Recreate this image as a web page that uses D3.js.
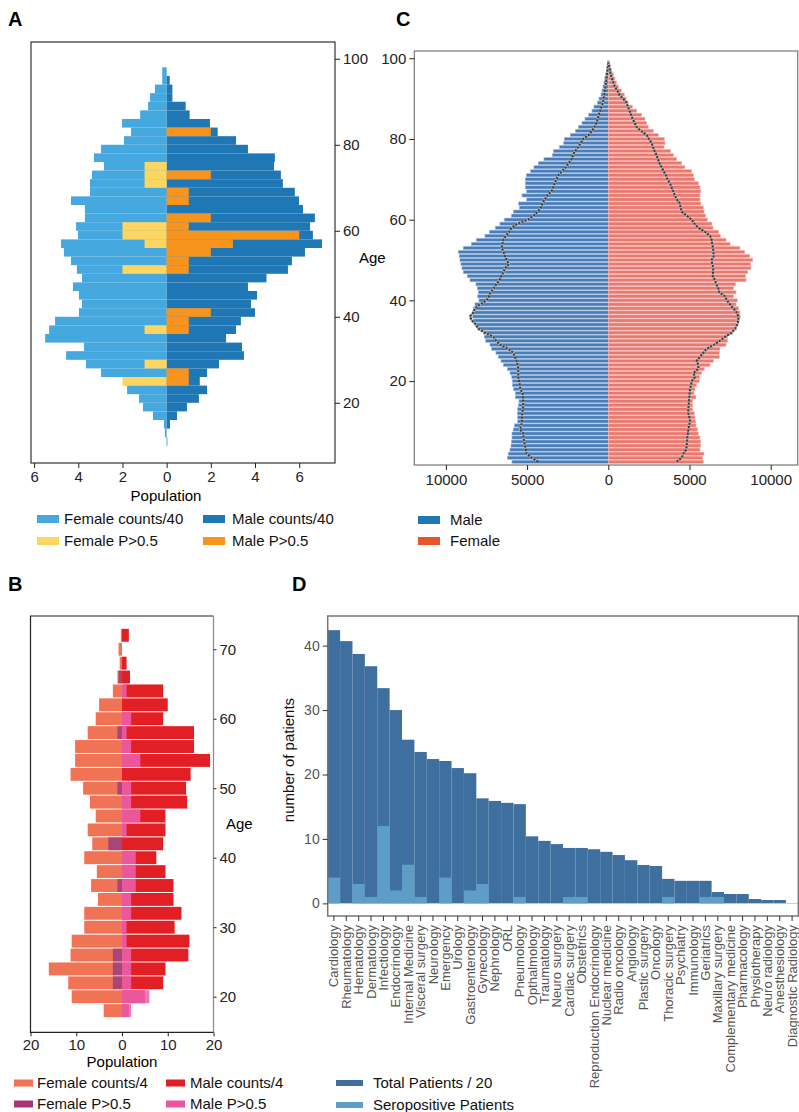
<!DOCTYPE html>
<html><head><meta charset="utf-8">
<script src="https://cdn.jsdelivr.net/npm/d3@7"></script>
<style>
body{margin:0;background:#fff}
text{font-family:Arial,"Liberation Sans",Helvetica,sans-serif}
</style>
</head><body>
<svg id="c" width="799" height="1112"></svg>
<script>
// ---------- Panel A data (2-year bins, lower edge) ----------
const binsA = [10,12,14,16,18,20,22,24,26,28,30,32,34,36,38,40,42,44,46,48,50,52,54,56,58,60,62,64,66,68,70,72,74,76,78,80,82,84,86,88,90,92,94,96];
const femaleCountsA = [0,0.08,0.12,0.62,1.07,1.25,1.79,1.9,2.97,3.65,4.55,3.74,5.5,5.32,5.05,3.97,3.83,3.97,4.24,3.83,4.06,4.33,4.65,4.78,4.01,4.1,3.7,3.7,4.33,3.47,3.47,3.38,2.84,3.29,2.97,1.93,1.61,2.02,1.2,0.84,0.75,0.53,0.2,0.2];
const maleCountsA = [0.03,0,0.15,0.47,0.92,1.46,1.83,1.5,1.83,2.37,3.5,3.41,2.69,3.14,3.36,4.0,3.82,4.09,3.68,4.52,5.49,5.67,6.26,7.03,6.62,6.49,6.71,6.17,5.99,5.8,5.26,5.17,4.86,4.9,3.68,3.14,2.31,1.96,1.04,0.86,0.26,0.26,0.14,0];
const femalePA = [0,0,0,0,0,0,0,2,0,1,0,0,0,1,0,0,0,0,0,0,2,0,0,1,2,2,0,0,0,0,1,1,1,0,0,0,0,0,0,0,0,0,0,0];
const malePA   = [0,0,0,0,0,0,0,1,1,0,0,0,0,1,1,2,0,0,0,0,1,1,2,3,6,1,2,0,1,1,0,2,0,0,0,0,2,0,0,0,0,0,0,0];
const ticksXA = [-6,-4,-2,0,2,4,6];
const ticksYA = [20,40,60,80,100];

// ---------- Panel B data (2-year bins, centre) ----------
const agesB = [18,20,22,24,26,28,30,32,34,36,38,40,42,44,46,48,50,52,54,56,58,60,62,64,66,68,70,72];
const femaleCountsB = [4,11,11.75,16,11.25,11,8.25,8.25,5.25,6.75,5.5,8.25,6.5,7.5,5.75,7,8.5,11.25,10.25,10.25,7.5,5.75,5,2,1,0.5,0.75,0.25];
const maleCountsB = [1.5,5,9,9.5,14.5,14.75,11.5,13,11.25,11.25,9.5,7.5,9,9.5,9.5,14.25,14,15,19.25,15.75,15.75,9,10,9,1.75,1,0,1.5];
const femalePB = [0,0,2,2,2,0,0,0,0,1,0,0,3,0,0,0,1,0,0,0,1,0,0,0,0.75,0,0,0];
const malePB   = [2,6,2,2,2,1,1,2,2,3,3,3,0,1,4,2,2,0,4,2,1,2,0,1,0,0,0,0];
const ticksXB = [-20,-10,0,10,20];
const ticksYB = [20,30,40,50,60,70];

// ---------- Panel C data (single years 0..99) ----------
const agesC = d3.range(0,100);
const maleC = [5933,6221,6159,6056,5995,5974,5933,5933,5851,5790,5584,5584,5605,5584,5543,5502,5728,5728,5851,5913,5913,5954,6056,6221,6467,6611,6775,6919,7186,7288,7555,7637,7699,8007,8212,8315,8356,8356,8315,8212,7966,8048,8007,8068,8150,8520,8686,8932,9014,9076,9138,9179,9240,8932,8439,8131,7598,7331,6961,6674,6407,5975,5852,5483,5524,5031,5318,5031,5113,5113,5113,5051,4784,4579,4312,3963,3450,3388,3018,2752,2710,2341,2033,1848,1622,1437,1211,1006,883,678,575,450,390,330,270,220,170,120,80,40];
const femaleC = [5852,5811,5893,5647,5688,5688,5647,5544,5503,5400,5380,5339,5298,5195,5195,5195,5400,5277,5339,5441,5606,5606,5750,5914,6263,6468,6838,6838,6879,7248,7351,7351,7659,7906,7947,8049,8131,8111,8029,7864,7947,7700,7864,7700,7844,8480,8460,8583,8788,8768,8891,8700,8400,8100,7500,7250,6900,6800,6450,6380,6100,5980,5900,5850,5700,5650,5650,5700,5650,5550,5300,5240,5130,4720,4520,4210,4000,3840,3430,3490,3450,3080,2770,2460,2360,2260,2050,1750,1480,1230,1100,990,800,620,510,410,310,220,140,60];
const maleLineC = [4311,4722,5030,5080,5133,5180,5220,5235,5440,5360,5330,5310,5297,5260,5235,5240,5260,5276,5420,5440,5500,5543,5543,5543,5580,5646,5750,5851,6159,6672,6900,7083,7596,8007,8150,8400,8520,8300,8212,7904,7493,7350,7250,7050,6900,6700,6600,6450,6365,6118,6262,6365,6450,6570,6520,6467,6300,6100,5954,5600,4950,4600,4350,4150,4050,3920,3750,3500,3400,3300,3200,3080,2850,2600,2450,2250,2180,2050,1850,1700,1550,1200,1000,850,720,650,580,500,420,330,290,250,210,170,140,110,80,50,30,10];
const femaleLineC = [4210,4517,4620,4800,4826,4850,4867,4900,4928,4980,5031,4990,4928,4928,4950,4970,4990,5010,5031,5100,5133,5339,5236,5544,5544,5441,5647,5850,6057,6500,6879,7200,7600,7803,7947,8008,8008,7906,7700,7495,7300,7187,6838,6776,6650,6571,6427,6450,6468,6400,6366,6500,6468,6450,6400,6366,6263,5955,5544,5300,5133,4825,4517,4450,4415,4209,4100,4004,3900,3799,3650,3550,3400,3285,3150,3050,2977,2850,2750,2669,2500,2361,2000,1745,1620,1500,1400,1300,1200,1129,900,678,550,400,308,220,150,100,50,20];
const ticksXC = [-10000,-5000,0,5000,10000];
const ticksYC = [20,40,60,80,100];

// ---------- Panel D data ----------
const departments = ["Cardiology","Rheumatology","Hematology","Dermatology","Infectiology","Endocrinology","Internal Medicine","Visceral surgery","Neurology","Emergency","Urology","Gastroenterology","Gynecology","Nephrology","ORL","Pneumology","Opthalmology","Traumatology","Neuro surgery","Cardiac surgery","Obstetrics","Reproduction Endocrinology","Nuclear medicine","Radio oncology","Angiology","Plastic surgery","Oncology","Thoracic surgery","Psychiatry","Immunology","Geriatrics","Maxillary surgery","Complementary medicine","Pharmacology","Physiotherapy","Neuro radiology","Anesthesiology","Diagnostic Radiology"];
const totalPatients20 = [42.4,40.7,38.7,36.8,33.4,30.0,25.4,23.5,22.4,22.1,21.0,20.2,16.3,15.9,15.6,15.4,10.4,9.7,9.2,8.6,8.6,8.4,8.0,7.5,6.7,5.95,5.8,3.8,3.5,3.5,3.5,1.76,1.45,1.45,0.67,0.52,0.52,0.05];
const seropositive = [4,0,3,1,12,2,6,1,0,4,0,2,3,0,0,1,0,0,0,1,1,0,0,0,0,0,0,1,0,0,1,1,0,0,0,0,0,0];
const ticksYD = [0,10,20,30,40];

const svg = d3.select("#c");
const FS = 15;

function styleAxis(g, color, size) {
  g.select(".domain").remove();
  g.selectAll(".tick line").attr("stroke", color).attr("stroke-width", 1);
  g.selectAll(".tick text").attr("fill", color).attr("font-size", size).attr("font-family", "Arial, 'Liberation Sans', sans-serif");
}
function legendRow(g, x, y, w, h, color, label, tx) {
  g.append("rect").attr("x", x).attr("y", y - h/2).attr("width", w).attr("height", h).attr("fill", color);
  g.append("text").attr("x", tx).attr("y", y).attr("dy", "0.35em").attr("font-size", FS).attr("fill", "#111").text(label);
}
function panelLabel(t, x, y) {
  svg.append("text").attr("x", x).attr("y", y).attr("font-size", 20).attr("font-weight", "bold").attr("fill", "#000").text(t);
}

// ================= Panel A =================
{
  const xA = d3.scaleLinear().domain([-6.14, 7.62]).range([31, 335]);
  const yA = d3.scaleLinear().domain([6, 103.9]).range([463, 42]);
  const g = svg.append("g");
  const layer = (vals, side, color) => {
    g.selectAll(null).data(binsA.map((b,i)=>({b, v: vals[i]})).filter(d=>d.v>0)).enter().append("rect")
      .attr("x", d => side < 0 ? xA(-d.v) : xA(0))
      .attr("width", d => side < 0 ? xA(0) - xA(-d.v) : xA(d.v) - xA(0))
      .attr("y", d => yA(d.b + 2))
      .attr("height", d => yA(d.b) - yA(d.b + 2))
      .attr("fill", color);
  };
  layer(femaleCountsA, -1, "#45a8df");
  layer(maleCountsA, 1, "#1f78b5");
  layer(femalePA, -1, "#fdd662");
  layer(malePA, 1, "#f7941d");
  g.append("rect").attr("x", 31).attr("y", 42).attr("width", 304).attr("height", 421).attr("fill", "none").attr("stroke", "#333").attr("stroke-width", 1.2);
  const ax = g.append("g").attr("transform", "translate(0,463)").call(d3.axisBottom(xA).tickValues(ticksXA).tickFormat(d=>Math.abs(d)).tickSize(5).tickPadding(3));
  styleAxis(ax, "#222", FS);
  const ay = g.append("g").attr("transform", "translate(335,0)").call(d3.axisRight(yA).tickValues(ticksYA).tickSize(5).tickPadding(3));
  styleAxis(ay, "#222", FS);
  g.append("text").attr("x", 166).attr("y", 501).attr("text-anchor", "middle").attr("font-size", FS).text("Population");
  g.append("text").attr("x", 359).attr("y", 258).attr("dy", "0.35em").attr("font-size", FS).text("Age");
  legendRow(g, 37, 519, 22, 8, "#45a8df", "Female counts/40", 64);
  legendRow(g, 203, 519, 22, 8, "#1f78b5", "Male counts/40", 232);
  legendRow(g, 37, 541, 22, 8, "#fdd662", "Female P>0.5", 64);
  legendRow(g, 203, 541, 22, 8, "#f7941d", "Male P>0.5", 232);
  panelLabel("A", 8, 26);
}

// ================= Panel C =================
{
  const xC = d3.scaleLinear().domain([-11946, 11663]).range([414.3, 797.7]);
  const yC = d3.scaleLinear().domain([-0.8, 101.8]).range([465, 51]);
  const g = svg.append("g");
  const bh = 3.2;
  g.selectAll(null).data(agesC.map((a,i)=>({a, v: maleC[i]}))).enter().append("rect")
    .attr("x", d => xC(-d.v)).attr("width", d => xC(0) - xC(-d.v))
    .attr("y", d => yC(d.a) - bh/2).attr("height", bh)
    .attr("fill", "#4a7cb8").attr("stroke", "#a6c1e0").attr("stroke-width", 0.6);
  g.selectAll(null).data(agesC.map((a,i)=>({a, v: femaleC[i]}))).enter().append("rect")
    .attr("x", xC(0)).attr("width", d => xC(d.v) - xC(0))
    .attr("y", d => yC(d.a) - bh/2).attr("height", bh)
    .attr("fill", "#e97870").attr("stroke", "#f5b5ae").attr("stroke-width", 0.6);
  const lineM = d3.line().x((d,i)=>xC(-d)).y((d,i)=>yC(agesC[i]));
  const lineF = d3.line().x((d,i)=>xC(d)).y((d,i)=>yC(agesC[i]));
  [lineM(maleLineC), lineF(femaleLineC)].forEach(p => {
    g.append("path").attr("d", p).attr("fill", "none").attr("stroke", "#bbb").attr("stroke-width", 2.2);
    g.append("path").attr("d", p).attr("fill", "none").attr("stroke", "#3c3c3c").attr("stroke-width", 2).attr("stroke-dasharray", "2.2,1.2");
  });
  g.append("rect").attr("x", 414.3).attr("y", 51).attr("width", 383.4).attr("height", 414).attr("fill", "none").attr("stroke", "#777").attr("stroke-width", 1.2);
  const ax = g.append("g").attr("transform", "translate(0,465)").call(d3.axisBottom(xC).tickValues(ticksXC).tickFormat(d=>Math.abs(d)).tickSize(5).tickPadding(4));
  styleAxis(ax, "#222", FS);
  const ay = g.append("g").attr("transform", "translate(414.3,0)").call(d3.axisLeft(yC).tickValues(ticksYC).tickSize(5).tickPadding(3));
  styleAxis(ay, "#222", FS);
  legendRow(g, 418, 520, 22, 8, "#1f77b4", "Male", 450);
  legendRow(g, 418, 541, 22, 8, "#e8552a", "Female", 450);
  panelLabel("C", 396, 26);
}

// ================= Panel B =================
{
  const xB = d3.scaleLinear().domain([-20, 20]).range([30.5, 213.5]);
  const yB = d3.scaleLinear().domain([14.88, 74.78]).range([1032.3, 616]);
  const g = svg.append("g");
  const layer = (vals, side, color, op) => {
    g.selectAll(null).data(agesB.map((a,i)=>({a, v: vals[i]})).filter(d=>d.v>0)).enter().append("rect")
      .attr("x", d => side < 0 ? xB(-d.v) : xB(0))
      .attr("width", d => side < 0 ? xB(0) - xB(-d.v) : xB(d.v) - xB(0))
      .attr("y", d => yB(d.a + 1) + 0.5)
      .attr("height", d => yB(d.a - 1) - yB(d.a + 1) - 1)
      .attr("fill", color).attr("fill-opacity", op);
  };
  layer(femaleCountsB, -1, "#f07355", 1);
  layer(maleCountsB, 1, "#e31f26", 1);
  layer(femalePB, -1, "#9b3e7e", 0.85);
  layer(malePB, 1, "#eb61af", 0.85);
  g.append("path").attr("d", "M213.5,616 H30.5 V1032.3 H213.5").attr("fill", "none").attr("stroke", "#222").attr("stroke-width", 1.2);
  g.append("line").attr("x1", 213.5).attr("x2", 213.5).attr("y1", 616).attr("y2", 1032.3).attr("stroke", "#888").attr("stroke-width", 1.2);
  const ax = g.append("g").attr("transform", "translate(0,1032.3)").call(d3.axisBottom(xB).tickValues(ticksXB).tickFormat(d=>Math.abs(d)).tickSize(4).tickPadding(3));
  styleAxis(ax, "#222", FS);
  const ay = g.append("g").attr("transform", "translate(213.5,0)").call(d3.axisRight(yB).tickValues(ticksYB).tickSize(3).tickPadding(3));
  styleAxis(ay, "#222", FS);
  g.append("text").attr("x", 122).attr("y", 1067).attr("text-anchor", "middle").attr("font-size", FS).text("Population");
  g.append("text").attr("x", 226).attr("y", 824).attr("dy", "0.35em").attr("font-size", FS).text("Age");
  legendRow(g, 14, 1083, 19, 7, "#f07355", "Female counts/4", 37);
  legendRow(g, 166, 1083, 19, 7, "#e31f26", "Male counts/4", 190);
  legendRow(g, 14, 1104, 19, 7, "#a8357a", "Female P>0.5", 37);
  legendRow(g, 166, 1104, 19, 7, "#e9559f", "Male P>0.5", 190);
  panelLabel("B", 8, 591);
}

// ================= Panel D =================
{
  const xD = d3.scaleBand().domain(departments).range([327.7, 798.3]).padding(0);
  const yD = d3.scaleLinear().domain([-1.96, 44.6]).range([916, 616]);
  const g = svg.append("g");
  g.selectAll(null).data(departments.map((c,i)=>({c, v: totalPatients20[i]}))).enter().append("rect")
    .attr("x", d => xD(d.c)).attr("width", xD.bandwidth())
    .attr("y", d => yD(d.v)).attr("height", d => yD(0) - yD(d.v))
    .attr("fill", "#3e6f9e");
  g.selectAll(null).data(departments.map((c,i)=>({c, v: seropositive[i]})).filter(d=>d.v>0)).enter().append("rect")
    .attr("x", d => xD(d.c)).attr("width", xD.bandwidth())
    .attr("y", d => yD(d.v)).attr("height", d => yD(0) - yD(d.v))
    .attr("fill", "#5f9dc9");
  g.append("rect").attr("x", 327.7).attr("y", 616).attr("width", 470.6).attr("height", 300).attr("fill", "none").attr("stroke", "#777").attr("stroke-width", 1.5);
  const ax = g.append("g").attr("transform", "translate(0,916)").call(d3.axisBottom(xD).tickSize(5));
  styleAxis(ax, "#555", 13);
  ax.selectAll(".tick line").attr("stroke", "#333");
  ax.selectAll(".tick text").attr("transform", "rotate(-90)").attr("text-anchor", "end").attr("x", -9).attr("y", 0).attr("dy", "0.35em");
  const ay = g.append("g").attr("transform", "translate(327.7,0)").call(d3.axisLeft(yD).tickValues(ticksYD).tickSize(5).tickPadding(3));
  styleAxis(ay, "#555", 14);
  ay.selectAll(".tick line").attr("stroke", "#333");
  g.append("text").attr("transform", "translate(294,760) rotate(-90)").attr("text-anchor", "middle").attr("font-size", FS).attr("fill", "#111").text("number of patients");
  legendRow(g, 336, 1083, 27, 6, "#3e6f9e", "Total Patients / 20", 373);
  legendRow(g, 336, 1105, 27, 6, "#5f9dc9", "Seropositive Patients", 373);
  panelLabel("D", 292, 591);
}
</script>
</body></html>
